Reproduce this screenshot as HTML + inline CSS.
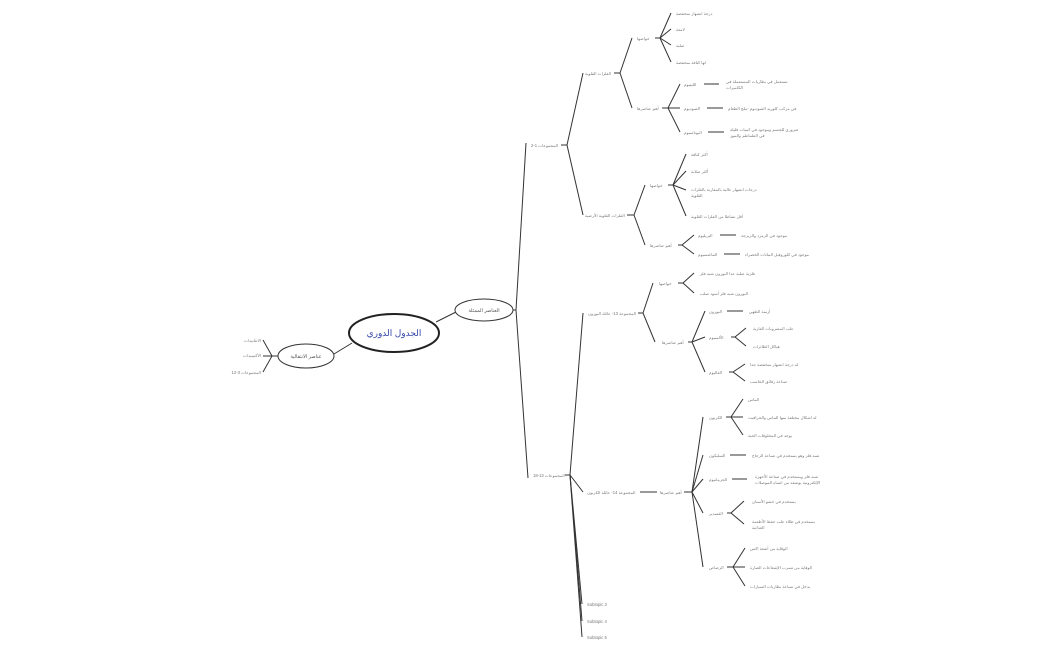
<!DOCTYPE html>
<html><head><meta charset="utf-8"><style>
html,body{margin:0;padding:0;background:#fff;width:1050px;height:650px;overflow:hidden}
svg{display:block}
text{font-family:"Liberation Sans","Noto Sans CJK SC",sans-serif;font-size:4.2px;fill:#777}
.l{stroke:#333;stroke-width:1;fill:none}
</style></head><body>
<svg width="1050" height="650" viewBox="0 0 1050 650">
<g class="l">
<line x1="436" y1="322" x2="456" y2="312"/>
<line x1="352" y1="343" x2="334" y2="354"/>
<polyline points="278,356 272,356"/>
<line x1="272" y1="356" x2="263" y2="340"/><line x1="272" y1="356" x2="263" y2="356"/><line x1="272" y1="356" x2="263" y2="372"/>
<line x1="513" y1="310" x2="516" y2="310"/>
<line x1="516" y1="310" x2="526" y2="143"/>
<line x1="516" y1="310" x2="528" y2="478"/>
<line x1="561" y1="145" x2="567" y2="145"/>
<line x1="567" y1="145" x2="583" y2="73"/><line x1="567" y1="145" x2="583" y2="215"/>
<line x1="614" y1="73" x2="620" y2="73"/>
<line x1="620" y1="73" x2="632" y2="38"/><line x1="620" y1="73" x2="632" y2="108"/>
<line x1="655" y1="38" x2="660" y2="38"/>
<line x1="660" y1="38" x2="671" y2="13"/><line x1="660" y1="38" x2="671" y2="29"/><line x1="660" y1="38" x2="671" y2="45"/><line x1="660" y1="38" x2="671" y2="62"/>
<line x1="662" y1="108" x2="668" y2="108"/>
<line x1="668" y1="108" x2="680" y2="84"/><line x1="668" y1="108" x2="680" y2="108"/><line x1="668" y1="108" x2="680" y2="132"/>
<line x1="704" y1="84" x2="719" y2="84"/><line x1="707" y1="108" x2="723" y2="108"/><line x1="708" y1="132" x2="724" y2="132"/>
<line x1="627" y1="215" x2="634" y2="215"/>
<line x1="634" y1="215" x2="645" y2="185"/><line x1="634" y1="215" x2="645" y2="245"/>
<line x1="668" y1="185" x2="673" y2="185"/>
<line x1="673" y1="185" x2="686" y2="154"/><line x1="673" y1="185" x2="686" y2="171"/><line x1="673" y1="185" x2="686" y2="190"/><line x1="673" y1="185" x2="686" y2="216"/>
<line x1="678" y1="245" x2="682" y2="245"/>
<line x1="682" y1="245" x2="694" y2="235"/><line x1="682" y1="245" x2="694" y2="254"/>
<line x1="720" y1="235" x2="736" y2="235"/><line x1="724" y1="254" x2="740" y2="254"/>
<line x1="565" y1="475" x2="570" y2="475"/>
<line x1="570" y1="475" x2="583" y2="313"/><line x1="570" y1="475" x2="583" y2="492"/>
<line x1="570" y1="475" x2="582" y2="604"/><line x1="570" y1="475" x2="582" y2="621"/><line x1="570" y1="475" x2="582" y2="637"/>
<line x1="638" y1="313" x2="643" y2="313"/>
<line x1="643" y1="313" x2="653" y2="283"/><line x1="643" y1="313" x2="655" y2="342"/>
<line x1="678" y1="283" x2="683" y2="283"/>
<line x1="683" y1="283" x2="694" y2="273"/><line x1="683" y1="283" x2="694" y2="293"/>
<line x1="688" y1="342" x2="692" y2="342"/>
<line x1="692" y1="342" x2="705" y2="311"/><line x1="692" y1="342" x2="705" y2="337"/><line x1="692" y1="342" x2="705" y2="372"/>
<line x1="727" y1="311" x2="743" y2="311"/>
<line x1="731" y1="337" x2="735" y2="337"/><line x1="735" y1="337" x2="746" y2="328"/><line x1="735" y1="337" x2="746" y2="346"/>
<line x1="729" y1="372" x2="733" y2="372"/><line x1="733" y1="372" x2="745" y2="364"/><line x1="733" y1="372" x2="745" y2="381"/>
<line x1="640" y1="492" x2="657" y2="492"/>
<line x1="684" y1="492" x2="692" y2="492"/>
<line x1="692" y1="492" x2="703" y2="417"/><line x1="692" y1="492" x2="703" y2="455"/><line x1="692" y1="492" x2="703" y2="479"/><line x1="692" y1="492" x2="703" y2="513"/><line x1="692" y1="492" x2="703" y2="567"/>
<line x1="726" y1="417" x2="731" y2="417"/>
<line x1="731" y1="417" x2="743" y2="399"/><line x1="731" y1="417" x2="743" y2="417"/><line x1="731" y1="417" x2="743" y2="435"/>
<line x1="730" y1="455" x2="746" y2="455"/><line x1="732" y1="479" x2="747" y2="479"/>
<line x1="727" y1="513" x2="731" y2="513"/><line x1="731" y1="513" x2="744" y2="501"/><line x1="731" y1="513" x2="744" y2="524"/>
<line x1="727" y1="567" x2="733" y2="567"/><line x1="733" y1="567" x2="745" y2="548"/><line x1="733" y1="567" x2="745" y2="567"/><line x1="733" y1="567" x2="745" y2="586"/>
</g>
<ellipse cx="394" cy="333" rx="45" ry="19" fill="#fff" stroke="#222" stroke-width="2"/>
<text x="394" y="336" text-anchor="middle" style="font-size:9px;fill:#3344aa">الجدول الدوري</text>
<ellipse cx="484" cy="310" rx="29" ry="11" fill="#fff" stroke="#333" stroke-width="1"/>
<text x="484" y="312" text-anchor="middle" style="font-size:5px;fill:#555">العناصر الممثلة</text>
<ellipse cx="306" cy="356" rx="28" ry="12" fill="#fff" stroke="#333" stroke-width="1"/>
<text x="306" y="358" text-anchor="middle" style="font-size:5px;fill:#555">عناصر الانتقالية</text>
<g text-anchor="end">
<text x="261" y="342">الانثانيدات</text>
<text x="261" y="357">الأكتينيدات</text>
<text x="261" y="374">المجموعات 3-12</text>
</g>
<text x="531" y="147">المجموعات 1-2</text>
<text x="533" y="477">المجموعات 13-18</text>
<text x="585" y="75">الفلزات القلوية</text>
<text x="585" y="217">الفلزات القلوية الأرضية</text>
<text x="637" y="40">خواصها</text>
<text x="637" y="110">أهم عناصرها</text>
<text x="676" y="15">درجة انصهار منخفضة</text>
<text x="676" y="31">لامعة</text>
<text x="676" y="47">صلبة</text>
<text x="676" y="64">لها كثافة منخفضة</text>
<text x="684" y="86">الليثيوم</text>
<text x="684" y="110">الصوديوم</text>
<text x="684" y="134">البوتاسيوم</text>
<text x="726" y="83">تستعمل في بطاريات المستعملة في</text>
<text x="726" y="89">الكاميرات</text>
<text x="728" y="110">في مركب كلوريد الصوديوم -ملح الطعام</text>
<text x="730" y="131">ضروري للجسم وموجود في كميات قليلة</text>
<text x="730" y="137">في الطماطم والموز</text>
<text x="650" y="187">خواصها</text>
<text x="650" y="247">أهم عناصرها</text>
<text x="691" y="156">أكثر كثافة</text>
<text x="691" y="173">أكثر صلابة</text>
<text x="691" y="191">درجات انصهار عالية بالمقارنة بالفلزات</text>
<text x="691" y="197">القلوية</text>
<text x="691" y="218">أقل نشاطا من الفلزات القلوية</text>
<text x="698" y="237">البريليوم</text>
<text x="698" y="256">الماغنسيوم</text>
<text x="741" y="237">موجود في الزمرد والزبرجد</text>
<text x="745" y="256">موجود في كلوروفيل النباتات الخضراء</text>
<text x="588" y="315">المجموعة 13- عائلة البورون</text>
<text x="659" y="285">خواصها</text>
<text x="662" y="344">أهم عناصرها</text>
<text x="700" y="275">فلزية صلبة عدا البورون شبه فلز</text>
<text x="700" y="295">البورون شبه فلز أسود صلب</text>
<text x="709" y="313">البورون</text>
<text x="709" y="339">الألمنيوم</text>
<text x="709" y="374">الغاليوم</text>
<text x="749" y="313">أزمنة الطهي</text>
<text x="753" y="330">علب المشروبات الغازية</text>
<text x="753" y="348">هياكل الطائرات</text>
<text x="750" y="366">له درجة انصهار منخفضة جدا</text>
<text x="750" y="383">صناعة رقائق الحاسب</text>
<text x="587" y="494">المجموعة 14- عائلة الكربون</text>
<text x="660" y="494">أهم عناصرها</text>
<text x="709" y="419">الكربون</text>
<text x="709" y="457">السليكون</text>
<text x="709" y="481">الجرمانيوم</text>
<text x="709" y="515">القصدير</text>
<text x="709" y="569">الرصاص</text>
<text x="748" y="401">الماس</text>
<text x="748" y="419">له اشكال مختلفة منها الماس والجرافيت</text>
<text x="748" y="437">يوجد في المخلوقات الحية</text>
<text x="752" y="457">شبه فلز وهو يستخدم في صناعة الزجاج</text>
<text x="755" y="478">شبه فلز ويستخدم في صناعة الأجهزة</text>
<text x="755" y="484">الإلكترونية بوصفه من اشباه الموصلات</text>
<text x="752" y="503">يستخدم في حشو الأسنان</text>
<text x="752" y="523">يستخدم في طلاء علب حفظ الأطعمة</text>
<text x="752" y="529">الغذائية</text>
<text x="750" y="550">الوقاية من أشعة اكس</text>
<text x="750" y="569">الوقاية من تسرب الإشعاعات الضارة</text>
<text x="750" y="588">يدخل في صناعة بطاريات السيارات</text>
<text x="587" y="606">Subtopic 3</text>
<text x="587" y="623">Subtopic 4</text>
<text x="587" y="639">Subtopic 5</text>
</svg>
</body></html>
